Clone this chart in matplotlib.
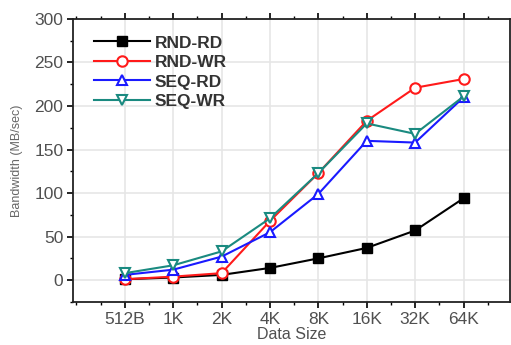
import matplotlib
matplotlib.use("Agg")
import matplotlib.pyplot as plt
from matplotlib.ticker import MultipleLocator

sizes = ["512B", "1K", "2K", "4K", "8K", "16K", "32K", "64K"]
rnd_rd = [1, 3, 6, 14, 25, 37, 57, 94]
rnd_wr = [1, 4, 8, 68, 123, 183, 221, 231]
seq_rd = [6, 12, 27, 55, 99, 160, 158, 210]
seq_wr = [8, 17, 33, 71, 123, 180, 168, 211]

plt.rcParams["font.family"] = ["Liberation Sans", "DejaVu Sans"]

fig = plt.figure(figsize=(5.11, 3.45), dpi=100)
ax = fig.add_axes([0.143, 0.125, 0.855, 0.82])
x = list(range(len(sizes)))

ax.plot(x, rnd_rd, color="black", marker="s", ms=7, lw=1.5, label="RND-RD")
ax.plot(x, rnd_wr, color="#ff1a1a", marker="o", ms=7.5, lw=1.5, mfc="white",
        mew=1.5, label="RND-WR")
ax.plot(x, seq_rd, color="#1a1aff", marker="^", ms=7.5, lw=1.5, mfc="white",
        mew=1.5, label="SEQ-RD")
ax.plot(x, seq_wr, color="#1a8a80", marker="v", ms=7.5, lw=1.5, mfc="white",
        mew=1.5, label="SEQ-WR")

ax.set_xlim(-1.07, 7.96)
ax.set_ylim(-25, 300)
ax.set_xticks(x, sizes)
ax.xaxis.set_minor_locator(MultipleLocator(0.5))
ax.yaxis.set_major_locator(MultipleLocator(50))
ax.yaxis.set_minor_locator(MultipleLocator(25))
ax.grid(True, color="#e6e6e6", lw=1.2)
ax.set_axisbelow(True)
ax.tick_params(axis="both", which="major", direction="out", length=4, width=1.2,
               labelsize=12.5, labelcolor="#505050", pad=3)
ax.tick_params(axis="both", which="minor", direction="out", length=2.5, width=1)
ax.tick_params(axis="x", top=True, which="both")
for s in ax.spines.values():
    s.set_linewidth(1.3)
    s.set_color("#222222")

ax.set_xlabel("Data Size", fontsize=11.5, color="#505050", labelpad=0)
ax.set_ylabel("Bandwidth (MB/sec)", fontsize=9, color="#666666", labelpad=8)

leg = ax.legend(loc="upper left", frameon=False, fontsize=12.5, handlelength=3.2,
                borderaxespad=0.3, labelspacing=0.25, handletextpad=0.3,
                bbox_to_anchor=(0.02, 0.985))
for t in leg.get_texts():
    t.set_fontweight("bold")
    t.set_color("#333333")

fig.savefig("out.png", dpi=100)
